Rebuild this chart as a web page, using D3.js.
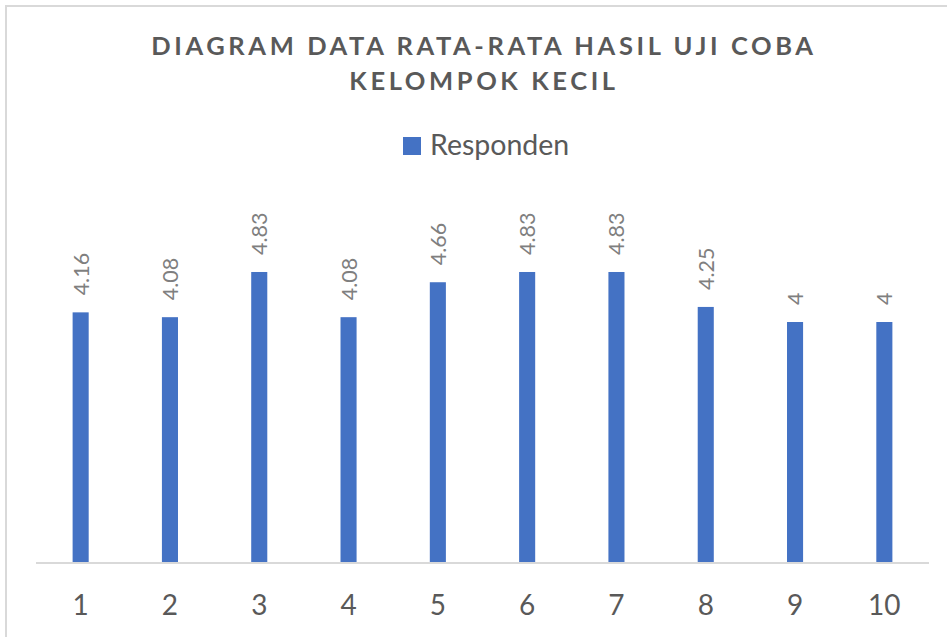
<!DOCTYPE html>
<html lang="id">
<head>
	<meta charset="UTF-8">
	<title>Diagram Data Rata-Rata Hasil Uji Coba Kelompok Kecil</title>
	<script src="https://cdnjs.cloudflare.com/ajax/libs/d3/7.8.5/d3.min.js"></script>
	<style>
		body { margin: 0; background: #fff; }
		svg { display: block; font-family: Lato, "Noto Sans", sans-serif; }
		.title { font-weight: bold; fill: #595959; letter-spacing: 3.6px; }
		.legend text { fill: #595959; }
		.bar-label { fill: #7f7f7f; }
		.x-axis text { fill: #595959; }
	</style>
</head>
<body>
	<div id="chart"></div>
	<script>
		// data
		var categories = ["1", "2", "3", "4", "5", "6", "7", "8", "9", "10"];
		var responden = [4.16, 4.08, 4.83, 4.08, 4.66, 4.83, 4.83, 4.25, 4, 4];
		var titleLines = ["DIAGRAM DATA RATA-RATA HASIL UJI COBA", "KELOMPOK KECIL"];
		var seriesName = "Responden";

		var width = 947, height = 637;
		var plot = { left: 36, right: 929, top: 201.5, bottom: 563 };

		var svg = d3.select("#chart").append("svg")
			.attr("width", width)
			.attr("height", height);

		// chart area border
		svg.append("rect")
			.attr("x", 6).attr("y", 6)
			.attr("width", width + 20).attr("height", height + 20)
			.attr("fill", "#fff")
			.attr("stroke", "#d9d9d9")
			.attr("stroke-width", 2);

		// title
		svg.selectAll(".title").data(titleLines)
			.enter().append("text")
				.attr("class", "title")
				.attr("x", 484)
				.attr("y", function(d, i){ return 55 + i * 34.5; })
				.attr("text-anchor", "middle")
				.attr("font-size", "25.5px")
				.text(function(d){ return d; });

		// legend
		var legend = svg.append("g").attr("class", "legend");
		legend.append("rect")
			.attr("x", 403).attr("y", 137)
			.attr("width", 18).attr("height", 18)
			.attr("fill", "#4472c4");
		legend.append("text")
			.attr("x", 430).attr("y", 155)
			.attr("font-size", "28.5px")
			.text(seriesName);

		var x = d3.scaleBand()
			.domain(categories)
			.range([plot.left, plot.right])
			.paddingInner(0.82)
			.paddingOuter(0.41);

		var y = d3.scaleLinear()
			.domain([0, 6])
			.range([plot.bottom, plot.top]);

		var data = categories.map(function(c, i){ return { cat: c, val: responden[i] }; });

		svg.selectAll(".bar").data(data)
			.enter().append("rect")
				.attr("class", "bar")
				.attr("x", function(d){ return x(d.cat); })
				.attr("y", function(d){ return y(d.val); })
				.attr("width", x.bandwidth())
				.attr("height", function(d){ return y(0) - y(d.val); })
				.attr("fill", "#4472c4");

		// value labels, rotated
		svg.selectAll(".bar-label").data(data)
			.enter().append("text")
				.attr("class", "bar-label")
				.attr("font-size", "21.5px")
				.attr("transform", function(d){
					var cx = x(d.cat) + x.bandwidth() / 2 + 8;
					return "translate(" + cx + "," + (y(d.val) - 17) + ") rotate(-90)";
				})
				.text(function(d){ return d.val; });

		// x axis
		var xAxis = svg.append("g")
			.attr("class", "x-axis")
			.attr("transform", "translate(0," + plot.bottom + ")")
			.call(d3.axisBottom(x).tickSize(0).tickPadding(32));
		xAxis.select(".domain").attr("stroke", "#d9d9d9").attr("stroke-width", 2)
			.attr("d", "M" + plot.left + ",0H" + plot.right);
		xAxis.selectAll("text")
			.attr("font-size", "28px")
			.attr("font-family", "Lato, 'Noto Sans', sans-serif");
	</script>
</body>
</html>
